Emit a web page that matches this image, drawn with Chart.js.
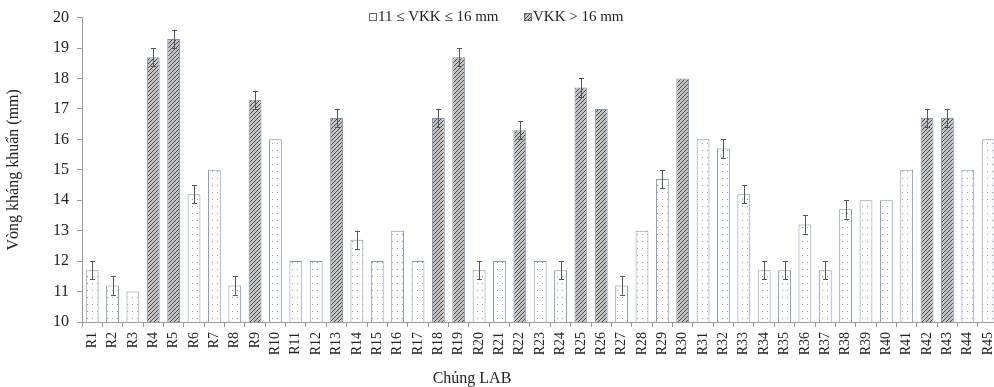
<!DOCTYPE html>
<html>
<head>
<meta charset="utf-8">
<script src="https://cdn.jsdelivr.net/npm/chart.js@4.4.1/dist/chart.umd.min.js"></script>
<style>
  html, body { margin: 0; padding: 0; background: #fff; overflow: hidden; }
  #wrap { width: 1010px; height: 387px; }
</style>
</head>
<body>
<div id="wrap"><canvas id="labChart"></canvas></div>
<script>
// Vòng kháng khuẩn của các chủng LAB
const chungLAB = ["R1","R2","R3","R4","R5","R6","R7","R8","R9","R10","R11","R12","R13","R14","R15",
  "R16","R17","R18","R19","R20","R21","R22","R23","R24","R25","R26","R27","R28","R29","R30",
  "R31","R32","R33","R34","R35","R36","R37","R38","R39","R40","R41","R42","R43","R44","R45"];
const vongKK = [11.7, 11.2, 11.0, 18.7, 19.3, 14.2, 15.0, 11.2, 17.3, 16.0, 12.0, 12.0, 16.7, 12.7, 12.0,
  13.0, 12.0, 16.7, 18.7, 11.7, 12.0, 16.3, 12.0, 11.7, 17.7, 17.0, 11.2, 13.0, 14.7, 18.0,
  16.0, 15.7, 14.2, 11.7, 11.7, 13.2, 11.7, 13.7, 14.0, 14.0, 15.0, 16.7, 16.7, 15.0, 16.0];
const saiSo = [0.3, 0.3, 0, 0.3, 0.3, 0.3, 0, 0.3, 0.3, 0, 0, 0, 0.3, 0.3, 0,
  0, 0, 0.3, 0.3, 0.3, 0, 0.3, 0, 0.3, 0.3, 0, 0.3, 0, 0.3, 0,
  0, 0.3, 0.3, 0.3, 0.3, 0.3, 0.3, 0.3, 0, 0, 0, 0.3, 0.3, 0, 0];
const yTicks = [10, 11, 12, 13, 14, 15, 16, 17, 18, 19, 20];
const nhomLabels = ["11 \u2264 VKK \u2264 16 mm", "VKK > 16 mm"];

const nhomThap = vongKK.map(v => v <= 16 ? v : null);
const nhomCao = vongKK.map(v => v > 16 ? v : null);

const serif = "'Liberation Serif', 'DejaVu Serif', serif";

// hoa van cham
function dotPattern() {
  const c = document.createElement("canvas");
  c.width = 5; c.height = 7;
  const g = c.getContext("2d");
  g.fillStyle = "#ffffff";
  g.fillRect(0, 0, 5, 7);
  g.fillStyle = "#9a9a9a";
  g.fillRect(2, 3, 1, 1);
  return g.createPattern(c, "repeat");
}
// hoa van gach cheo
function hatchPattern() {
  const c = document.createElement("canvas");
  c.width = 4; c.height = 4;
  const g = c.getContext("2d");
  g.fillStyle = "#c4c4c4";
  g.fillRect(0, 0, 4, 4);
  g.strokeStyle = "#4a4a4a";
  g.lineWidth = 1;
  g.beginPath();
  g.moveTo(0, 4); g.lineTo(4, 0);
  g.moveTo(-1, 1); g.lineTo(1, -1);
  g.moveTo(3, 5); g.lineTo(5, 3);
  g.stroke();
  return g.createPattern(c, "repeat");
}

const fillThap = dotPattern();
const fillCao = hatchPattern();

const errorBars = {
  id: "errorBars",
  afterDatasetsDraw(chart) {
    const ctx = chart.ctx;
    const y = chart.scales.y;
    ctx.save();
    ctx.strokeStyle = "#555";
    ctx.lineWidth = 1;
    chart.data.datasets.forEach((ds, di) => {
      const meta = chart.getDatasetMeta(di);
      meta.data.forEach((bar, i) => {
        const v = ds.data[i];
        if (v == null || !saiSo[i]) return;
        const x = Math.round(bar.x) + 0.5;
        const top = y.getPixelForValue(v + saiSo[i]);
        const bot = y.getPixelForValue(v - saiSo[i]);
        ctx.beginPath();
        ctx.moveTo(x, top); ctx.lineTo(x, bot);
        ctx.moveTo(x - 2.5, Math.round(top) + 0.5); ctx.lineTo(x + 2.5, Math.round(top) + 0.5);
        ctx.moveTo(x - 2.5, Math.round(bot) + 0.5); ctx.lineTo(x + 2.5, Math.round(bot) + 0.5);
        ctx.stroke();
      });
    });
    ctx.restore();
  }
};

const legendAndTitle = {
  id: "legendAndTitle",
  afterDraw(chart) {
    const ctx = chart.ctx;
    const area = chart.chartArea;
    ctx.save();
    ctx.font = "15px " + serif;
    ctx.textBaseline = "middle";
    ctx.fillStyle = "#222";
    const items = [
      { x: 369, fill: fillThap, text: nhomLabels[0] },
      { x: 524, fill: fillCao, text: nhomLabels[1] }
    ];
    items.forEach(it => {
      ctx.fillStyle = it.fill;
      ctx.fillRect(it.x, 13, 8, 8);
      ctx.strokeStyle = "#666";
      ctx.strokeRect(it.x + 0.5, 13.5, 7, 7);
      ctx.fillStyle = "#222";
      ctx.fillText(it.text, it.x + 9, 17);
    });
    // tieu de truc x
    ctx.font = "16px " + serif;
    ctx.textAlign = "center";
    ctx.fillText("Ch\u1ee7ng LAB", 472, 379);
    ctx.restore();
  }
};

new Chart(document.getElementById("labChart"), {
  type: "bar",
  data: {
    labels: chungLAB,
    datasets: [
      {
        label: nhomLabels[0],
        data: nhomThap,
        backgroundColor: fillThap,
        borderColor: "#7d95b3",
        borderWidth: 1
      },
      {
        label: nhomLabels[1],
        data: nhomCao,
        backgroundColor: fillCao,
        borderColor: "#7d95b3",
        borderWidth: 1
      }
    ]
  },
  options: {
    responsive: true,
    maintainAspectRatio: false,
    animation: false,
    skipNull: true,
    categoryPercentage: 1,
    barPercentage: 0.63,
    layout: { padding: { top: 17, right: 3, left: 0, bottom: 0 } },
    plugins: {
      legend: { display: false },
      tooltip: { enabled: false }
    },
    scales: {
      x: {
        grid: { drawOnChartArea: false, offset: true, tickLength: 5, color: "#999" },
        border: { color: "#999" },
        ticks: {
          minRotation: 90, maxRotation: 90, autoSkip: false, padding: 5,
          color: "#222", font: { family: serif, size: 14 }
        },
        afterFit(s) { s.height = 65; }
      },
      y: {
        min: 10, max: 20,
        afterBuildTicks(s) { s.ticks = yTicks.map(v => ({ value: v })); },
        grid: { drawOnChartArea: false, tickLength: 5, color: "#999" },
        border: { color: "#999" },
        ticks: { padding: 8, color: "#222", font: { family: serif, size: 16 } },
        title: {
          display: true,
          text: "V\u00f2ng kh\u00e1ng khu\u1ea9n (mm)",
          color: "#222",
          font: { family: serif, size: 16 },
          padding: { top: 4, bottom: 0 }
        },
        afterFit(s) { s.width = 82; }
      }
    }
  },
  plugins: [errorBars, legendAndTitle]
});
</script>
</body>
</html>
